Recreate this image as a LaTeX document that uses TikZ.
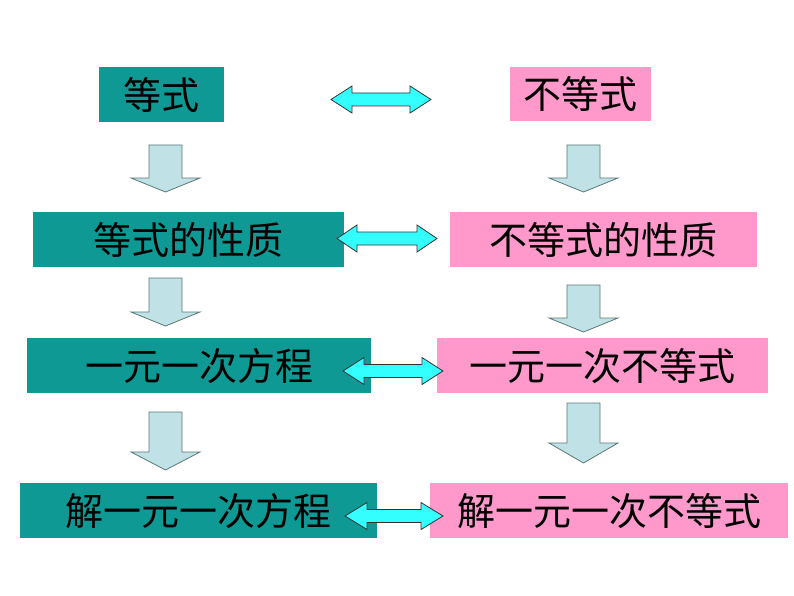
\documentclass[tikz,border=0pt]{standalone}
\usepackage{fontspec}
\newfontfamily\cjk{Noto Sans CJK SC}
\definecolor{tealbox}{RGB}{14,153,148}
\definecolor{pinkbox}{RGB}{255,153,204}
\definecolor{cyanarr}{RGB}{51,255,255}
\definecolor{downfill}{RGB}{192,226,230}
\definecolor{downline}{RGB}{90,120,120}
\tikzset{
  tbox/.style={fill=tealbox, draw=none, anchor=north west, inner sep=0pt,
    font=\cjk\fontsize{38}{40}\selectfont, text=black},
  pbox/.style={fill=pinkbox, draw=none, anchor=north west, inner sep=0pt,
    font=\cjk\fontsize{38}{40}\selectfont, text=black},
  downarr/.style={fill=downfill, draw=downline, line width=0.8pt, line join=miter},
  dblarr/.style={fill=cyanarr, draw=black!80, line width=0.8pt, line join=miter},
}
\newcommand\blockdown[4]{%
  \draw[downarr] (#1-16.5,#2) -- (#1+16.5,#2) -- (#1+16.5,#3) -- (#1+34.5,#3)
    -- (#1,#4) -- (#1-34.5,#3) -- (#1-16.5,#3) -- cycle;}
\newcommand\blockdouble[4]{%
  \draw[dblarr] (#1,#3) -- (#1+#4,#3-13.5) -- (#1+#4,#3-6.5) -- (#2-#4,#3-6.5)
    -- (#2-#4,#3-13.5) -- (#2,#3) -- (#2-#4,#3+13.5) -- (#2-#4,#3+6.5)
    -- (#1+#4,#3+6.5) -- (#1+#4,#3+13.5) -- cycle;}
\begin{document}
\begin{tikzpicture}[x=1pt,y=-1pt]
\useasboundingbox (0,0) rectangle (794,596);
\fill[white] (0,0) rectangle (794,596);
% boxes
\node[tbox, minimum width=125pt, minimum height=55pt] (a) at (99,67) {等式};
\node[pbox, minimum width=141pt, minimum height=54pt] (b) at (510,67) {不等式};
\node[tbox, minimum width=311pt, minimum height=55pt] (c) at (33,212) {等式的性质};
\node[pbox, minimum width=307pt, minimum height=55pt] (d) at (450,212) {不等式的性质};
\node[tbox, minimum width=344pt, minimum height=55pt] (e) at (27,338) {一元一次方程};
\node[pbox, minimum width=331pt, minimum height=55pt] (f) at (437,338) {一元一次不等式};
\node[tbox, minimum width=357pt, minimum height=55pt] (g) at (20,483) {解一元一次方程};
\node[pbox, minimum width=358pt, minimum height=55pt] (h) at (430,483) {解一元一次不等式};
% down arrows, left column
\blockdown{165.5}{145}{178}{192}
\blockdown{165.5}{278}{312}{326}
\blockdown{165.5}{412}{452}{470}
% down arrows, right column
\blockdown{583.5}{145}{178}{192}
\blockdown{583.5}{285}{318}{332}
\blockdown{583.5}{403}{443}{463}
% double arrows
\blockdouble{331}{431}{99.5}{21}
\blockdouble{337}{437}{238.5}{20}
\blockdouble{343}{443}{371}{21}
\blockdouble{345}{443}{516}{22}
\end{tikzpicture}
\end{document}
